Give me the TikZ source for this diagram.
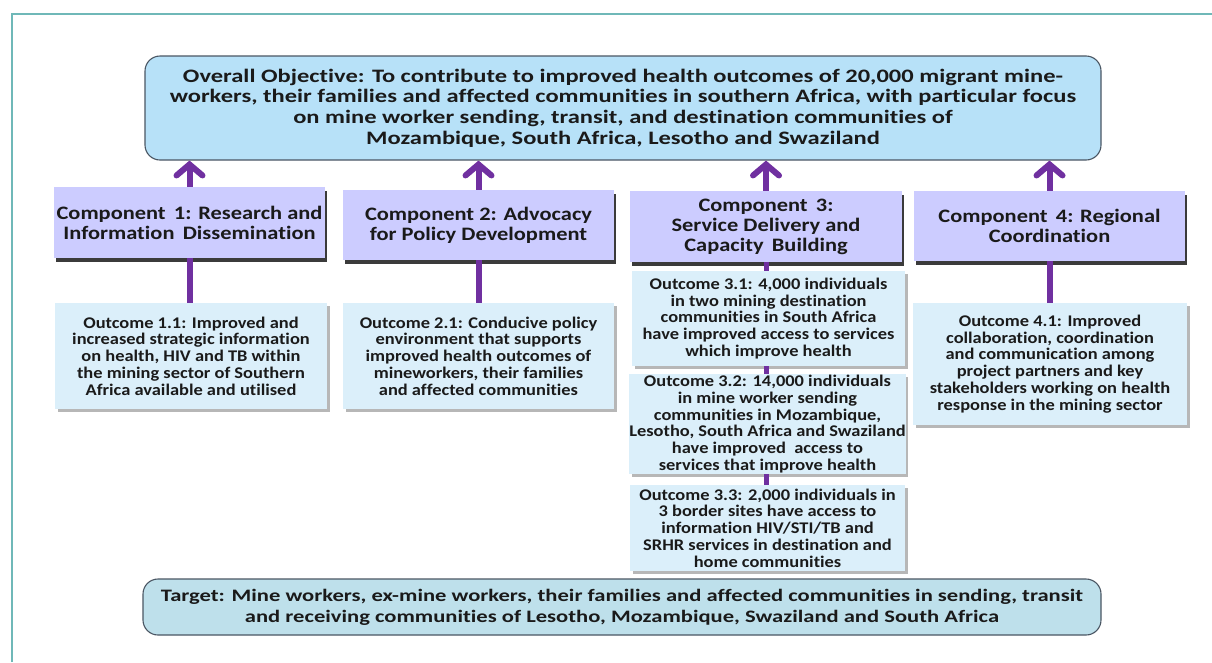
\documentclass[tikz,border=0pt]{standalone}
\usepackage{fontspec}
\newfontfamily\cf{Carlito}[FakeStretch=1.18, Ligatures=NoCommon]
\newfontfamily\co{Carlito}[FakeStretch=1.13, Ligatures=NoCommon]
\newfontfamily\cw{Carlito}[FakeStretch=1.29, Ligatures=NoCommon]
\usetikzlibrary{arrows.meta,shadows}
\definecolor{objfill}{HTML}{B7E1F8}
\definecolor{compfill}{HTML}{CCCCFF}
\definecolor{outfill}{HTML}{DBEFFA}
\definecolor{tgtfill}{HTML}{BEE0EB}
\definecolor{edge}{HTML}{4A5663}
\definecolor{purp}{HTML}{7030A0}
\definecolor{frame}{HTML}{6FB8B8}
\definecolor{txt}{HTML}{1A1A1A}
\tikzset{
  bigbox/.style={draw=edge, line width=1.1pt, rounded corners=15pt, inner sep=0pt, align=center, text=txt,
    font=\cw\bfseries\fontsize{19}{20.7}\selectfont},
  compbox/.style={fill=compfill, inner sep=0pt, align=center, text=txt,
    font=\cf\bfseries\fontsize{19}{20}\selectfont,
    drop shadow={shadow xshift=1.5pt, shadow yshift=-3.5pt, fill=black!90, opacity=0.85}},
  outbox/.style={fill=outfill, inner sep=0pt, align=center, text=txt,
    font=\co\bfseries\fontsize{16.3}{16.8}\selectfont,
    drop shadow={shadow xshift=2.5pt, shadow yshift=-2.5pt, fill=gray!80, opacity=0.7}},
  uparrow/.style={draw=purp, line width=6pt, -{Straight Barb[length=11pt,width=26pt,line cap=round]}},
  conn/.style={draw=purp, line width=6pt},
  smallconn/.style={draw=purp, line width=5pt},
}
\begin{document}
\begin{tikzpicture}[x=1pt,y=-1pt]
\useasboundingbox (0,0) rectangle (1212,662);
\draw[frame, line width=1.6pt] (12,662) -- (12,14) -- (1212,14);

\node[bigbox, fill=objfill, minimum width=956pt, minimum height=104pt] (obj) at (623,108)
  {Overall Objective: To contribute to improved health outcomes of 20,000 migrant mine-\\
   workers, their families and affected communities in southern Africa, with particular focus\\
   on mine worker sending, transit, and destination communities of\\
   Mozambique, South Africa, Lesotho and Swaziland};

\node[compbox, minimum width=271pt, minimum height=71pt] (c1) at (189.5,222.5)
  {Component\ \,1: Research and\\Information\ \,Dissemination};
\node[compbox, minimum width=271pt, minimum height=70pt] (c2) at (478.5,225)
  {Component 2: Advocacy\\for Policy Development};
\node[compbox, minimum width=272pt, minimum height=71pt] (c3) at (766,226.5)
  {Component\ \,3:\\Service Delivery and\\Capacity\ \,Building};
\node[compbox, minimum width=271pt, minimum height=70pt] (c4) at (1049.5,226)
  {Component\ \,4: Regional\\Coordination};

\node[outbox, minimum width=272pt, minimum height=106pt] (o1) at (191,356)
  {Outcome 1.1: Improved and\\increased strategic information\\on health, HIV and TB within\\the mining sector of Southern\\Africa available and utilised};
\node[outbox, minimum width=271pt, minimum height=106pt] (o2) at (478.5,356)
  {Outcome 2.1: Conducive policy\\environment that supports\\improved health outcomes of\\mineworkers, their families\\and affected communities};
\node[outbox, minimum width=273pt, minimum height=95pt] (o31) at (768.5,318.5)
  {Outcome 3.1: 4,000 individuals\\in two mining destination\\communities in South Africa\\have improved access to services\\which improve health};
\node[outbox, minimum width=275pt, minimum height=100pt] (o32) at (767.5,424)
  {Outcome 3.2: 14,000 individuals\\in mine worker sending\\communities in Mozambique,\\Lesotho, South Africa and Swaziland\\have improved\ \ access to\\services that improve health};
\node[outbox, minimum width=275pt, minimum height=86pt] (o33) at (767.5,528)
  {Outcome 3.3: 2,000 individuals in\\3 border sites have access to\\information HIV/STI/TB and\\SRHR services in destination and\\home communities};
\node[outbox, minimum width=274pt, minimum height=122pt] (o4) at (1050,364)
  {Outcome 4.1: Improved\\collaboration, coordination\\and communication among\\project partners and key\\stakeholders working on health\\response in the mining sector};

\node[bigbox, fill=tgtfill, minimum width=958pt, minimum height=56pt, font=\cw\bfseries\fontsize{17.5}{20.7}\selectfont] (tgt) at (622,607)
  {Target: Mine workers, ex-mine workers, their families and affected communities in sending, transit\\
   and receiving communities of Lesotho, Mozambique, Swaziland and South Africa};

\draw[uparrow] (c1.north) -- (c1.north |- obj.south);
\draw[uparrow] (c2.north) -- (c2.north |- obj.south);
\draw[uparrow] (c3.north) -- (c3.north |- obj.south);
\draw[uparrow] (c4.north) -- (c4.north |- obj.south);

\draw[conn] (c1.south) -- (c1.south |- o1.north);
\draw[conn] (c2.south) -- (c2.south |- o2.north);
\draw[conn] (c4.south) -- (c4.south |- o4.north);
\draw[smallconn] (c3.south) -- (c3.south |- o31.north);
\draw[smallconn] (c3.south |- o31.south) -- (c3.south |- o32.north);
\draw[smallconn] (c3.south |- o32.south) -- (c3.south |- o33.north);
\end{tikzpicture}
\end{document}
